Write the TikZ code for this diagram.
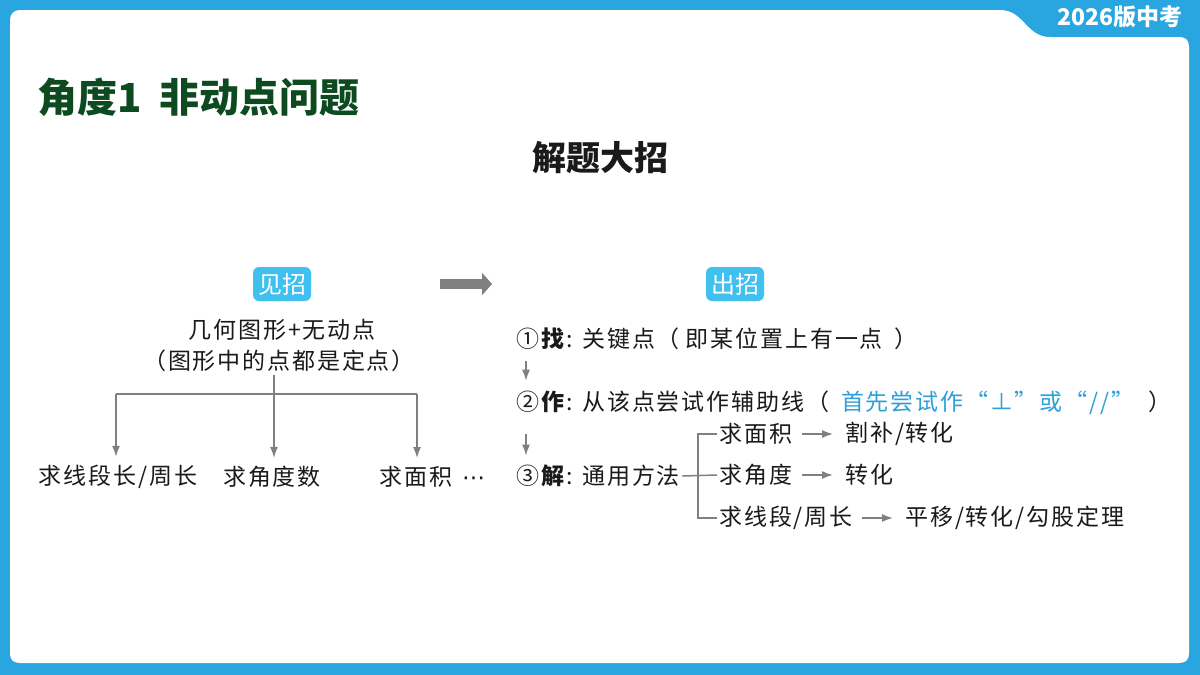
\documentclass[tikz,border=0pt]{standalone}
\usepackage{fontspec}
\setmainfont{Noto Sans CJK SC}[LetterSpace=8]
\newfontfamily\plainfont{Noto Sans CJK SC}
\newfontfamily\dotsfont{DejaVu Sans}
\usetikzlibrary{arrows.meta}
\definecolor{frameblue}{HTML}{29A5DF}
\definecolor{badgeblue}{HTML}{40C0EE}
\definecolor{hintblue}{HTML}{2E9FD8}
\definecolor{titlegreen}{HTML}{0D4A1F}
\definecolor{linkgray}{HTML}{808080}
\definecolor{ink}{HTML}{1A1A1A}

\begin{document}
\begin{tikzpicture}[x=0.5pt,y=-0.5pt,
    txt/.style={inner sep=1pt,text=ink,font=\fontsize{11.5}{13}\selectfont},
    badge/.style={fill=badgeblue,rounded corners=3pt,text=white,minimum width=29pt,minimum height=17pt,inner sep=0pt,font=\plainfont\fontsize{12}{14}\selectfont},
    link/.style={draw=linkgray,line width=0.75pt,-{Latex[length=5.5pt,width=4pt]}},
    fork/.style={draw=linkgray,line width=0.75pt}]
    \useasboundingbox (0,0) rectangle (1200,675);
    %frame
    \fill[frameblue] (0,0) rectangle (1200,675);
    \fill[white] (10,20) .. controls (10,14) and (14,10) .. (20,10) -- (1000,10)
        .. controls (1024,10) and (1026,37) .. (1050,37) -- (1180,37)
        .. controls (1186,37) and (1189,41) .. (1189,47) -- (1189,654)
        .. controls (1189,660) and (1185,663) .. (1179,663) -- (20,663)
        .. controls (14,663) and (10,660) .. (10,654) -- cycle;
    \node (edition) at (1120,17) [text=white,inner sep=0pt,font=\plainfont\bfseries\fontsize{11.5}{13}\selectfont]{2026版中考};

    %headings
    \node (title) at (37,97) [anchor=west,inner sep=0pt,text=titlegreen,font=\plainfont\bfseries\fontsize{20}{24}\selectfont]{角度1\hspace{9pt}非动点问题};
    \node (motto) at (600,158) [text=ink,font=\plainfont\bfseries\fontsize{17}{20}\selectfont]{解题大招};

    %see
    \node (see) at (282,284) [badge]{见招};
    \node (given) at (282,330) [txt]{几何图形+无动点};
    \node (note) at (279,361) [txt]{（图形中的点都是定点）};
    \node (len) at (118,477) [txt]{求线段长/周长};
    \node (angle) at (272,477) [txt]{求角度数};
    \node (area) at (377,477) [txt,anchor=west]{求面积\hspace{5pt}{\dotsfont ⋯}};
    \coordinate (top) at (274,375);
    \coordinate (barL) at (116,394);
    \coordinate (barR) at (417,394);
    \draw [fork] (barL) to (barR);
    \draw [link,shorten >=3pt] (top) to (top |- angle.north);
    \draw [link,shorten >=3pt] (barL) to (barL |- len.north);
    \draw [link,shorten >=3pt] (barR) to (barR |- area.north);

    %big arrow
    \coordinate (seeEnd) at (440,284);
    \coordinate (doEnd) at (492,284);
    \draw [line width=5pt,linkgray,-{Triangle[length=5pt,width=11pt]}] (seeEnd) to (doEnd);

    %do
    \node (do) at (735,284) [badge]{出招};
    \node (find) at (514,339) [txt,anchor=west]{①\textbf{找}:\hspace{5pt}关键点（\hspace{3pt}即某位置上有一点\hspace{6pt}）};
    \node (make) at (514,403) [txt,anchor=west]{②\textbf{作}:\hspace{5pt}从该点尝试作辅助线（\hspace{6pt}\textcolor{hintblue}{首先尝试作“⊥”或“//”}\hspace{7pt}）};
    \node (solve) at (514,476) [txt,anchor=west]{③\textbf{解}:\hspace{5pt}通用方法};
    \draw [link,shorten <=4.5pt,shorten >=4pt] ([xshift=6pt]find.south west) to ([xshift=6pt]make.north west);
    \draw [link,shorten <=8.5pt,shorten >=3.5pt] ([xshift=6pt]make.south west) to ([xshift=6pt]solve.north west);

    %methods
    \node (areaR) at (717,434) [txt,anchor=west]{求面积};
    \node (angleR) at (717,475) [txt,anchor=west]{求角度};
    \node (lenR) at (717,518) [txt,anchor=west]{求线段/周长};
    \coordinate (split) at (698,475);
    \draw [fork] (solve.east) to (angleR.west);
    \draw [fork] (areaR.west) -| (split) |- (lenR.west);
    \node (cut) at (843,434) [txt,anchor=west]{割补/转化};
    \node (turn) at (843,475) [txt,anchor=west]{转化};
    \node (move) at (903,518) [txt,anchor=west]{平移/转化/勾股定理};
    \draw [link,shorten <=4pt,shorten >=5pt] (areaR.east) to (cut.west);
    \draw [link,shorten <=4pt,shorten >=5pt] (angleR.east) to (turn.west);
    \draw [link,shorten <=3.5pt,shorten >=5pt] (lenR.east) to (move.west);
  \end{tikzpicture}
\end{document}
